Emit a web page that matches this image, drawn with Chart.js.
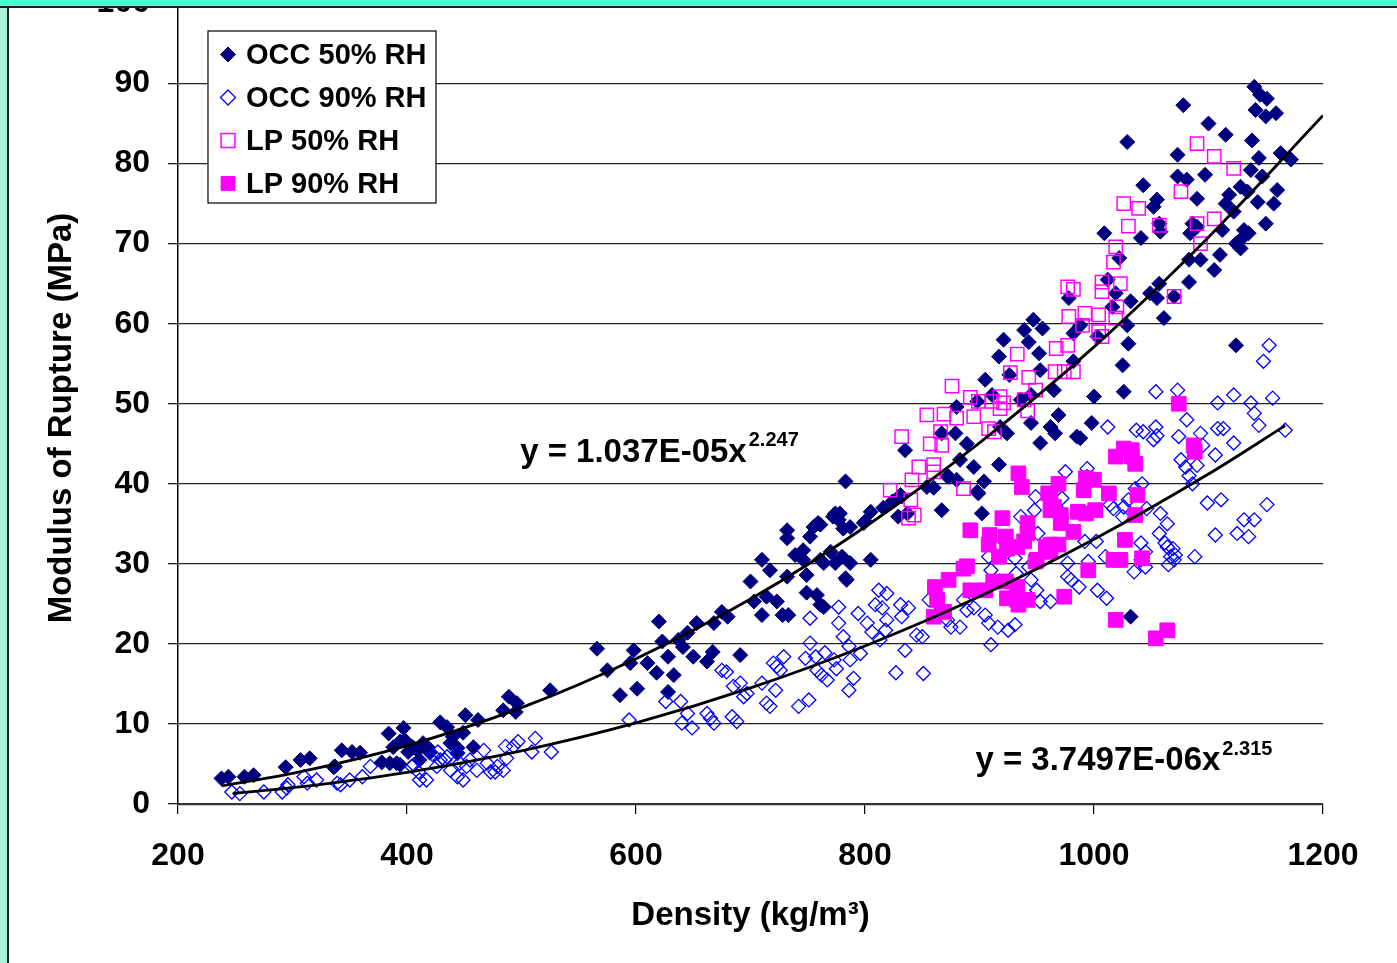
<!DOCTYPE html>
<html>
<head>
<meta charset="utf-8">
<title>Modulus of Rupture vs Density</title>
<script src="https://cdn.jsdelivr.net/npm/chart.js@4.4.1/dist/chart.umd.min.js"></script>
<style>
    body { margin: 0; background: #fff; }
    .wrap { position: relative; width: 1397px; height: 963px; overflow: hidden; }
    .band { position: absolute; left: 0; top: 0; width: 1397px; height: 6px; background: #4dfdd1; border-bottom: 2px solid #222; z-index: 3; }
    .strip { position: absolute; left: 0; top: 0; width: 7px; height: 963px; background: #a7f3db; border-right: 2px solid #222; z-index: 2; }
</style>
</head>
<body>
<div class="wrap">
    <canvas id="myChart" width="1397" height="963"></canvas>
    <div class="strip"></div>
    <div class="band"></div>
</div>
<script>
let fontFamily = "'Liberation Sans', Arial, sans-serif";

let seriesNames = ['OCC 50% RH', 'OCC 90% RH', 'LP 50% RH', 'LP 90% RH'];
let yTitle = 'Modulus of Rupture (MPa)';
let xTitle = 'Density (kg/m³)';

// OCC 50% RH (filled navy diamonds)
let occ50X = [238, 244, 258, 266, 294, 307, 315, 336, 343, 352, 359, 378, 384, 394, 397, 401, 385, 394, 405, 411,
    418, 429, 435, 438, 444, 451, 449, 458, 462, 484, 489, 496, 495, 525, 337, 388, 391, 398, 409, 414,
    420, 440, 444, 566, 575, 586, 601, 598, 595, 610, 620, 623, 618, 628, 633, 628, 637, 641, 645, 650,
    653, 662, 667, 668, 675, 680, 691, 700, 703, 710, 710, 717, 714, 723, 728, 732, 733, 732, 732, 739,
    746, 746, 749, 752, 755, 759, 749, 758, 761, 764, 770, 774, 777, 774, 780, 783, 787, 787, 783, 800,
    805, 805, 772, 778, 761, 799, 816, 824, 832, 835, 829, 837, 867, 854, 860, 873, 880, 883, 895, 904,
    899, 902, 917, 889, 879, 867, 880, 898, 905, 911, 917, 921, 926, 918, 924, 936, 939, 947, 955, 943,
    952, 953, 945, 945, 953, 962, 965, 966, 969, 978, 982, 985, 1078, 1029, 1100, 1115, 1140, 1145, 1151, 1141,
    1150, 1159, 1138, 1073, 1144, 1163, 1172, 1137, 1147, 1097, 1073, 1081, 1043, 1160, 1118, 1128, 1134, 1055, 1052, 1090,
    1115, 1122, 1143, 1157, 1057, 1058, 1086, 1090, 1112, 1131, 1135, 1150, 1128, 1124, 1009, 1041, 1084, 1128, 1022, 1083,
    1093, 1110, 1105, 1083, 1057, 1012, 1019, 1049, 1055, 1032, 1016, 1070, 1061, 1029, 988, 982, 1003, 1124, 1000, 1025,
    1026, 1030, 998, 988, 872, 898, 831, 781, 784, 761, 764, 1032];
let occ50Y = [3.2, 3.4, 3.4, 3.6, 4.6, 5.5, 5.7, 4.6, 6.7, 6.5, 6.4, 5.2, 8.8, 7.8, 9.5, 6.5, 5.1, 4.9, 7.1, 5.5,
    7.1, 10.2, 9.6, 7.6, 6.4, 11.1, 8.9, 7.1, 10.5, 11.7, 13.4, 12.6, 11.5, 14.2, 4.7, 7.1, 5.1, 8.0, 6.7, 7.6,
    6.4, 8.4, 7.0, 19.4, 16.7, 13.6, 14.4, 19.2, 17.6, 17.6, 22.8, 20.3, 16.4, 18.4, 16.1, 14.0, 20.5, 19.6, 21.4, 18.4,
    22.6, 17.8, 19.0, 22.6, 24.0, 23.4, 18.6, 27.8, 25.3, 30.5, 23.6, 29.2, 25.9, 25.3, 23.6, 28.4, 23.6, 34.2, 33.2, 31.1,
    30.5, 31.7, 28.6, 33.4, 34.6, 35.1, 26.4, 26.1, 24.9, 30.1, 31.5, 36.3, 35.5, 30.1, 30.9, 28.2, 34.6, 30.1, 40.3, 35.3,
    30.5, 36.5, 35.9, 36.3, 34.9, 35.1, 37.0, 37.8, 38.4, 44.2, 35.9, 36.3, 36.7, 39.6, 39.5, 40.9, 40.5, 43.0, 42.1, 40.3,
    38.8, 36.3, 42.4, 45.0, 46.3, 46.3, 49.6, 50.3, 53.0, 51.1, 55.9, 58.0, 53.6, 47.1, 46.3, 50.5, 59.2, 60.5, 59.4, 57.7,
    56.3, 54.2, 51.1, 47.6, 45.1, 47.1, 51.7, 46.3, 48.6, 63.2, 55.3, 45.9, 87.3, 82.7, 85.0, 83.6, 89.6, 88.6, 88.1, 86.7,
    85.9, 86.3, 82.9, 81.1, 80.7, 81.3, 80.5, 79.2, 78.4, 78.6, 78.4, 78.0, 77.3, 76.7, 76.1, 77.1, 76.5, 75.5, 74.6, 75.6,
    75.0, 74.0, 75.2, 75.0, 72.5, 71.5, 72.5, 72.1, 71.7, 71.7, 71.3, 72.5, 70.5, 70.0, 71.3, 70.7, 71.3, 69.4, 68.2, 68.0,
    68.0, 68.6, 66.7, 65.2, 65.0, 65.5, 63.8, 63.8, 63.2, 62.8, 62.1, 63.4, 60.7, 59.8, 59.8, 58.8, 58.4, 57.3, 50.9, 54.8,
    51.5, 57.5, 47.6, 45.7, 40.9, 39.0, 38.6, 34.4, 28.0, 30.5, 24.6, 23.4];

// OCC 90% RH (open blue diamonds)
let occ90X = [247, 254, 275, 291, 295, 296, 313, 310, 321, 342, 350, 361, 368, 406, 410, 411, 417, 423, 426, 429,
    435, 438, 444, 449, 446, 455, 461, 467, 470, 473, 479, 484, 487, 493, 497, 509, 512, 526, 486, 339,
    404, 427, 433, 444, 452, 477, 594, 626, 639, 645, 640, 649, 662, 665, 668, 675, 679, 684, 688, 685,
    691, 694, 697, 710, 714, 717, 720, 723, 726, 729, 722, 742, 751, 752, 752, 748, 757, 758, 762, 767,
    773, 775, 777, 777, 781, 786, 787, 790, 786, 794, 802, 806, 796, 765, 812, 819, 809, 815, 819, 831,
    838, 832, 818, 813, 835, 845, 850, 851, 856, 867, 872, 875, 883, 886, 889, 895, 905, 908, 910, 916,
    925, 931, 908, 910, 931, 943, 932, 945, 950, 953, 962, 949, 948, 951, 936, 975, 972, 971, 994, 994,
    992, 1002, 977, 977, 980, 987, 995, 1003, 1011, 1010, 1014, 1017, 1025, 1026, 1012, 1030, 1037, 1043, 1036, 1042,
    1046, 1041, 1045, 1041, 1035, 1045, 1052, 1054, 1055, 1058, 1064, 1057, 1062, 1064, 1067, 1070, 1065, 1071, 1069, 1073,
    1081, 1074, 1076, 1080, 1090, 1083, 1086, 1093, 1095, 1099, 1106, 1111, 1106, 1108, 1108, 1113, 1122, 1137, 1140, 1122,
    1144, 1156, 1167, 1151, 1131, 1140, 1125, 1135, 1088, 1153, 1148, 1054, 827];
let occ90Y = [1.5, 1.3, 1.5, 1.5, 2.0, 2.4, 2.6, 3.4, 3.0, 2.4, 3.0, 3.4, 4.7, 4.9, 4.0, 3.0, 3.0, 6.1, 4.7, 5.5,
    5.9, 4.2, 3.4, 3.0, 5.1, 5.5, 4.2, 6.7, 5.1, 4.0, 4.7, 4.2, 5.7, 7.2, 7.8, 6.5, 8.2, 6.5, 7.2, 2.6,
    4.7, 6.5, 5.5, 6.3, 4.7, 4.0, 10.5, 12.8, 12.8, 11.3, 10.1, 9.5, 11.3, 10.7, 10.1, 16.7, 16.5, 10.9, 10.3, 14.7,
    15.1, 13.4, 13.8, 15.1, 12.6, 12.2, 17.6, 17.2, 16.7, 18.4, 14.2, 12.2, 13.0, 23.2, 20.1, 18.2, 18.4, 16.7, 16.1, 15.5,
    18.0, 16.9, 24.6, 22.6, 20.9, 19.7, 18.0, 15.7, 14.2, 23.8, 22.6, 21.5, 18.8, 18.9, 26.7, 26.3, 24.9, 24.5, 23.0, 24.9,
    24.5, 23.4, 21.7, 20.5, 19.2, 21.1, 20.9, 16.3, 25.5, 24.5, 23.0, 22.1, 22.1, 25.5, 24.2, 24.5, 23.6, 22.6, 19.9, 22.1,
    21.7, 22.4, 30.9, 29.2, 30.7, 29.6, 28.8, 28.0, 26.7, 25.3, 25.3, 38.4, 36.7, 33.8, 35.9, 41.5, 38.2, 36.5, 41.9, 40.9,
    32.8, 32.8, 30.1, 28.4, 28.0, 27.1, 30.3, 26.7, 25.7, 30.9, 37.4, 36.9, 35.9, 37.1, 47.1, 38.0, 46.7, 46.5, 39.4, 40.0,
    36.9, 32.6, 31.5, 30.5, 29.0, 29.6, 45.5, 47.1, 46.0, 36.3, 35.0, 33.8, 32.6, 32.1, 30.9, 30.5, 29.9, 31.1, 31.9, 51.7,
    48.0, 45.9, 43.0, 42.1, 42.3, 41.0, 40.0, 46.3, 44.8, 37.6, 43.6, 38.0, 33.6, 50.1, 46.9, 46.9, 51.1, 50.1, 48.8, 45.1,
    47.3, 50.7, 46.7, 37.4, 35.5, 35.5, 33.8, 33.4, 30.9, 57.3, 55.3, 51.5, 16.4];

// LP 50% RH (open magenta squares)
let lp50X = [876, 892, 899, 911, 918, 921, 918, 927, 933, 943, 949, 939, 942, 854, 869, 880, 895, 832, 866, 857,
    867, 913, 908, 847, 860, 860, 841, 822, 840, 843, 838, 886, 977, 978, 967, 977, 966, 974, 982, 1090,
    1105, 1122, 1076, 1026, 1039, 1030, 1057, 1090, 1105, 1093, 1019, 1017, 1007, 1023, 982, 1007, 1020, 1070, 992, 1004,
    1019, 990, 1004, 1007];
let lp50Y = [52.2, 50.8, 50.3, 50.3, 50.9, 50.1, 49.4, 53.9, 56.2, 53.3, 51.7, 50.5, 49.1, 48.6, 48.7, 48.2, 48.4, 45.9, 46.5, 45.0,
    44.8, 46.5, 46.9, 42.1, 42.4, 41.5, 40.5, 39.2, 38.0, 36.1, 35.7, 39.4, 64.6, 60.9, 56.9, 57.3, 54.0, 54.0, 54.0, 82.5,
    80.9, 79.4, 76.5, 75.0, 74.4, 72.2, 72.3, 72.5, 73.1, 70.0, 69.6, 67.7, 65.2, 65.0, 64.3, 64.0, 62.1, 63.4, 61.3, 61.1,
    60.7, 59.8, 59.0, 58.4];

// LP 90% RH (filled magenta squares)
let lp90X = [1074, 1087, 1088, 934, 937, 920, 892, 909, 908, 923, 924, 917, 942, 942, 939, 933, 949, 962, 965, 971,
    971, 969, 982, 962, 962, 969, 991, 993, 1000, 1001, 993, 986, 1013, 1019, 1026, 1033, 1033, 1036, 1038, 1036,
    1027, 1017, 1023, 1042, 995, 886, 873, 861, 863, 869, 860, 892, 905, 912, 923, 933, 924, 933, 942, 934,
    958, 950, 974, 1019, 1054, 1064, 889, 960, 962];
let lp90Y = [50.0, 44.8, 44.0, 41.3, 39.6, 35.7, 34.2, 33.6, 32.4, 33.4, 31.9, 30.9, 35.1, 33.8, 32.8, 32.1, 30.3, 38.6, 37.1, 36.1,
    35.1, 40.0, 34.0, 32.4, 31.5, 32.4, 39.2, 40.7, 40.5, 36.7, 36.3, 36.5, 38.8, 43.4, 44.4, 44.2, 43.4, 42.5, 38.6, 36.1,
    33.0, 30.5, 30.5, 30.7, 29.2, 29.4, 28.0, 27.1, 25.5, 24.0, 23.4, 26.7, 26.7, 27.8, 27.8, 27.1, 25.7, 25.5, 25.5, 24.9,
    32.1, 30.5, 25.9, 23.0, 20.7, 21.7, 29.7, 38.8, 36.7];

// power trend lines
let trend50X = [238, 300, 400, 500, 600, 700, 800, 900, 1000, 1100, 1200];
let trend50Y = [2.27, 3.82, 7.30, 12.04, 18.15, 25.6, 34.6, 45.1, 57.1, 70.8, 86.0];
let trend90X = [248, 300, 400, 500, 600, 700, 800, 900, 1000, 1100, 1167];
let trend90Y = [1.31, 2.04, 3.96, 6.65, 10.14, 14.50, 19.74, 25.91, 33.07, 41.22, 47.26];

let eq50 = ['y = 1.037E-05x', '2.247'];
let eq90 = ['y = 3.7497E-06x', '2.315'];

function toPoints(xs, ys) {
    let pts = [];
    for (let i = 0; i < xs.length; i++) {
        pts.push({ x: xs[i], y: ys[i] });
    }
    return pts;
}

let markerStyles = [
    { pointStyle: 'rectRot', radius: 7.5, fill: '#000080', border: '#000080', width: 1 },
    { pointStyle: 'rectRot', radius: 7, fill: 'rgba(0,0,0,0)', border: '#0000ff', width: 1.3 },
    { pointStyle: 'rect', radius: 9.4, fill: 'rgba(0,0,0,0)', border: '#ff00ff', width: 1.5 },
    { pointStyle: 'rect', radius: 10.4, fill: '#ff00ff', border: '#ff00ff', width: 1 }
];
let seriesData = [toPoints(occ50X, occ50Y), toPoints(occ90X, occ90Y), toPoints(lp50X, lp50Y), toPoints(lp90X, lp90Y)];

let datasets = [];
seriesNames.forEach((name, i) => {
    let m = markerStyles[i];
    datasets.push({
        label: name,
        data: seriesData[i],
        pointStyle: m.pointStyle,
        pointRadius: m.radius,
        pointBackgroundColor: m.fill,
        pointBorderColor: m.border,
        pointBorderWidth: m.width,
        showLine: false,
        order: 4 - i
    });
});
[[trend50X, trend50Y], [trend90X, trend90Y]].forEach((t, i) => {
    datasets.push({
        label: 'trend' + i,
        data: toPoints(t[0], t[1]),
        showLine: true,
        pointRadius: 0,
        borderColor: '#000',
        borderWidth: 2.8,
        cubicInterpolationMode: 'monotone',
        order: 0
    });
});

// legend box, y title and trend equations, drawn on the canvas
let extras = {
    id: 'extras',
    afterDraw(chart) {
        let ctx = chart.ctx;
        let xs = chart.scales.x;
        let ys = chart.scales.y;
        ctx.save();

        // legend
        ctx.fillStyle = '#fff';
        ctx.fillRect(208, 31, 228, 172);
        ctx.strokeStyle = '#000';
        ctx.lineWidth = 1.2;
        ctx.strokeRect(208, 31, 228, 172);
        seriesNames.forEach((name, i) => {
            let m = markerStyles[i];
            let cy = 54.5 + i * 43;
            ctx.fillStyle = m.fill;
            ctx.strokeStyle = m.border;
            ctx.lineWidth = m.width;
            Chart.helpers.drawPoint(ctx, { pointStyle: m.pointStyle, radius: m.pointStyle == 'rect' ? 9.8 : 7.5, rotation: 0, borderWidth: m.width }, 228, cy);
            ctx.fillStyle = '#000';
            ctx.font = 'bold 29px ' + fontFamily;
            ctx.textBaseline = 'middle';
            ctx.textAlign = 'left';
            ctx.fillText(name, 246, cy + 1);
        });

        // y axis title, a bit below the axis middle as in the original
        ctx.save();
        ctx.translate(62, 418);
        ctx.rotate(-Math.PI / 2);
        ctx.fillStyle = '#000';
        ctx.font = 'bold 33px ' + fontFamily;
        ctx.textAlign = 'center';
        ctx.textBaseline = 'middle';
        ctx.fillText(yTitle, 0, 0);
        ctx.restore();

        // equations
        [[eq50, 498.8, 42.7, 16], [eq90, 896.4, 4.2, 15]].forEach(e => {
            let px = xs.getPixelForValue(e[1]);
            let py = ys.getPixelForValue(e[2]);
            ctx.fillStyle = '#000';
            ctx.textBaseline = 'alphabetic';
            ctx.textAlign = 'left';
            ctx.font = 'bold 33px ' + fontFamily;
            ctx.fillText(e[0][0], px, py);
            let w = ctx.measureText(e[0][0]).width;
            ctx.font = 'bold 20px ' + fontFamily;
            ctx.fillText(e[0][1], px + w + 2, py - e[3]);
        });
        ctx.restore();
    }
};

let config = {
    type: 'scatter',
    data: { datasets: datasets },
    options: {
        responsive: false,
        animation: false,
        layout: { autoPadding: false, padding: { top: 3.5, right: 74, bottom: 0, left: 0 } },
        plugins: {
            legend: { display: false },
            tooltip: { enabled: false }
        },
        scales: {
            x: {
                type: 'linear',
                min: 200,
                max: 1200,
                ticks: {
                    stepSize: 200,
                    color: '#000',
                    padding: 23,
                    maxRotation: 0,
                    callback: v => String(v),
                    font: { family: fontFamily, size: 32, weight: 'bold' }
                },
                grid: { drawOnChartArea: false, drawTicks: true, tickLength: 10, color: '#000', lineWidth: 1.2 },
                border: { display: true, color: '#333', width: 2.2 },
                title: {
                    display: true,
                    text: xTitle,
                    color: '#000',
                    padding: { top: 0, bottom: 27 },
                    font: { family: fontFamily, size: 33, weight: 'bold' }
                },
                afterFit(scale) {
                    scale.height = 159;
                    scale.paddingLeft = 0;
                    scale.paddingRight = 0;
                }
            },
            y: {
                min: 0,
                max: 100,
                ticks: {
                    stepSize: 10,
                    color: '#000',
                    padding: 18,
                    callback: v => String(v),
                    font: { family: fontFamily, size: 32, weight: 'bold' }
                },
                grid: { color: '#222', lineWidth: 1.3, tickLength: 10 },
                border: { display: true, color: '#000', width: 1.5 },
                title: { display: false },
                afterFit(scale) {
                    scale.width = 178;
                    scale.paddingTop = 0;
                    scale.paddingBottom = 0;
                }
            }
        }
    },
    plugins: [extras]
};

let myChart = new Chart(document.getElementById('myChart'), config);
</script>
</body>
</html>
